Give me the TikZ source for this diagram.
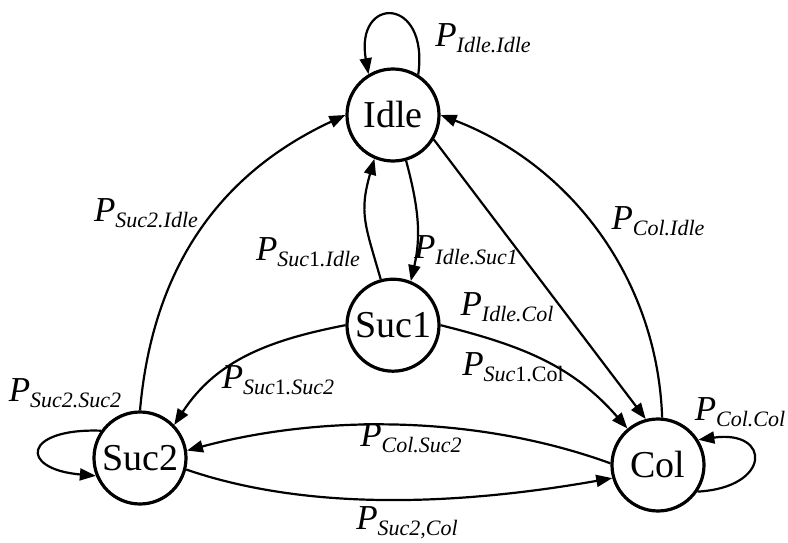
\documentclass[tikz,border=0pt]{standalone}
\usepackage{fontspec}
\setmainfont{Liberation Serif}
\usepackage{tikz}
\usetikzlibrary{arrows.meta,positioning}

\newcommand{\prob}[1]{{\fontsize{35}{35}\selectfont\itshape P}\raisebox{-6pt}{\fontsize{22}{22}\selectfont\itshape #1}}

\begin{document}
\begin{tikzpicture}[
    x=1pt, y=1pt,
    state/.style={
        circle,
        draw,
        line width=3.2pt,
        minimum size=92pt,
        inner sep=0pt,
        font=\fontsize{38}{40}\selectfont
    },
    tlabel/.style={inner sep=0pt},
    arrow/.style={-{Triangle[length=16pt,width=12pt]}, line width=2.2pt}
]
    \useasboundingbox (0,0) rectangle (788,542);

    \node[state] (idle) at (393,427) {Idle};
    \node[state, below=115pt of idle] (suc1) {Suc1};
    \node[state] (suc2) at (140,84) {Suc2};
    \node[state] (col) at (658,77) {Col};

    % self loops
    \draw[arrow] (idle.58) to[out=82,in=100,distance=80pt] (idle.121);
    \draw[arrow] (suc2.145) to[out=178,in=175,distance=78pt] (suc2.202);
    \draw[arrow] (col.-34) to[out=3,in=8,distance=74pt] (col.32);

    % transitions
    \draw[arrow] (suc2.north) to[out=85,in=205,looseness=1.0] (idle.west);
    \draw[arrow] (col.85) to[out=92,in=-21,looseness=0.95] (idle.east);
    \draw[arrow] (idle.-31) -- (col.105);
    \draw[arrow] (idle.-74) to[out=-75,in=77] (suc1.68);
    \draw[arrow] (suc1.105) to[out=106,in=-106,looseness=1.2] (idle.-113);
    \draw[arrow] (suc1.east) to[out=-14,in=131] (col.130);
    \draw[arrow] (suc1.west) to[out=191,in=57] (suc2.44);
    \draw[arrow] (col.178) to[out=160,in=15,looseness=0.85] (suc2.9);
    \draw[arrow] (suc2.-14) to[out=-19,in=190,looseness=0.83] (col.-164);

    % probabilities
    \node[tlabel] (pii) at (483,504) {\prob{Idle.Idle}};
    \node[tlabel] (psi2) at (146,329) {\prob{Suc2.Idle}};
    \node[tlabel] (psi1) at (308,290) {\prob{Suc\textup{1}.Idle}};
    \node[tlabel] (pis1) at (466,292) {\prob{Idle.Suc1}};
    \node[tlabel] (pic) at (507,235) {\prob{Idle.Col}};
    \node[tlabel] (pci) at (658,321) {\prob{Col.Idle}};
    \node[tlabel] (ps1c) at (513,175) {\prob{Suc\textup{1.Col}}};
    \node[tlabel] (ps1s2) at (278,162) {\prob{Suc\textup{1}.Suc2}};
    \node[tlabel] (ps2s2) at (65,149) {\prob{Suc2.Suc2}};
    \node[tlabel] (pcs2) at (411,104) {\prob{Col.Suc2}};
    \node[tlabel] (ps2c) at (407,19) {\prob{Suc2,Col}};
    \node[tlabel] (pcc) at (740,130) {\prob{Col.Col}};
\end{tikzpicture}
\end{document}
